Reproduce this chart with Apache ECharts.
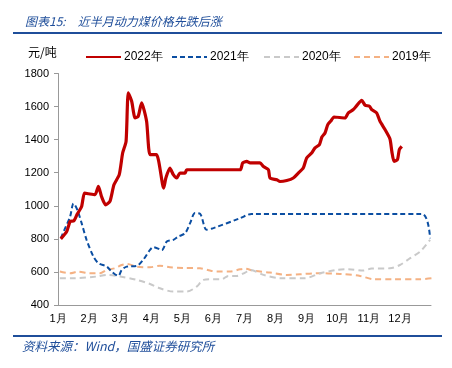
<!DOCTYPE html>
<html>
<head>
  <meta charset="utf-8" />
  <title>动力煤价格</title>
  <style>
    html, body { margin: 0; padding: 0; background: #fff; }
    #chart { width: 452px; height: 368px; }
  </style>
</head>
<body>
  <div id="chart"></div>
  <script src="https://cdn.jsdelivr.net/npm/echarts@6/dist/echarts.min.js"></script>
  <script>
    // x = 月份位置 (0 = 1月初, 12 = 年末)
    var months = ['1月','2月','3月','4月','5月','6月','7月','8月','9月','10月','11月','12月'];
    var yTicks = [400, 600, 800, 1000, 1200, 1400, 1600, 1800];

    var x2022 = [0.09,0.28,0.39,0.51,0.62,0.76,0.85,0.98,1.19,1.30,1.40,1.53,1.67,1.80,1.97,2.08,2.19,2.26,2.37,2.48,2.58,2.69,2.85,2.96,3.17,3.40,3.47,3.60,3.71,3.82,3.92,4.09,4.14,5.86,5.94,6.07,6.18,6.50,6.61,6.77,6.82,7.04,7.14,7.36,7.57,7.73,7.89,8.00,8.16,8.27,8.41,8.49,8.59,8.68,8.77,8.88,9.23,9.34,9.50,9.61,9.77,9.88,10.02,10.09,10.25,10.36,10.52,10.68,10.74,10.81,10.92,10.98,11.06];
    var y2022 = [800,844,905,909,950,996,1077,1073,1067,1117,1056,1006,1026,1127,1188,1319,1390,1683,1632,1531,1541,1622,1511,1309,1309,1107,1168,1228,1188,1168,1198,1198,1218,1218,1259,1269,1259,1259,1238,1218,1168,1157,1147,1153,1168,1198,1228,1289,1319,1350,1370,1416,1440,1491,1511,1537,1531,1562,1582,1606,1638,1608,1602,1582,1562,1511,1461,1404,1329,1269,1279,1339,1359];

    var x2021 = [0.09,0.23,0.39,0.50,0.62,0.76,0.92,1.14,1.30,1.57,1.73,1.94,2.05,2.21,2.53,2.74,2.96,3.07,3.34,3.50,3.71,3.87,4.09,4.25,4.41,4.57,4.78,5.00,5.86,6.23,11.70,11.97];
    var y2021 = [804,865,935,1014,976,895,794,693,653,632,602,576,612,632,636,673,733,750,733,784,794,814,834,895,956,952,855,865,925,951,951,804];

    var x2020 = [0.06,0.49,1.24,1.57,2.00,2.53,2.96,3.28,3.71,4.14,4.46,4.68,5.00,5.27,5.48,5.75,6.02,6.18,6.61,7.14,7.95,8.43,8.97,9.34,9.82,10.09,10.68,11.00,11.33,11.65,11.97];
    var y2020 = [562,562,572,582,572,552,527,501,481,481,511,552,556,556,576,576,596,612,582,562,562,592,612,616,608,620,622,642,683,723,794];

    var x2019 = [0.06,0.39,0.65,1.03,1.35,1.57,1.83,2.05,2.23,2.53,2.96,3.28,3.60,4.03,4.57,4.89,5.11,5.53,5.86,6.02,6.28,6.82,7.36,7.79,8.32,9.07,9.72,10.14,10.79,11.65,12.02];
    var y2019 = [602,592,602,592,592,612,622,642,648,632,628,638,628,624,622,608,602,602,616,620,608,596,582,586,592,588,576,556,556,556,562];

    function pairs(xs, ys) {
      var out = [];
      for (var i = 0; i < xs.length; i++) out.push([xs[i], ys[i]]);
      return out;
    }

    var blue = '#1F4E9A';
    var font = 'Liberation Sans, Arial, sans-serif';

    var myChart = echarts.init(document.getElementById('chart'));
    var legendBase = {
      top: 46,
      itemWidth: 35,
      itemHeight: 12,
      itemGap: 4,
      itemStyle: { opacity: 0 },
      textStyle: { fontSize: 12, color: '#000', fontFamily: font, padding: [0, 0, 0, -2] }
    };
    var option = {
      animation: false,
      backgroundColor: '#fff',
      title: {
        text: '图表15:\u3000近半月动力煤价格先跌后涨',
        left: 20,
        top: 10,
        textStyle: {
          fontSize: 12,
          fontWeight: 'normal',
          fontStyle: 'italic',
          color: blue,
          fontFamily: 'Noto Sans CJK SC'
        }
      },
      graphic: [
        { type: 'line', shape: { x1: 13, y1: 33, x2: 442, y2: 33 }, style: { stroke: blue, lineWidth: 2 } },
        { type: 'line', shape: { x1: 13, y1: 336, x2: 442, y2: 336 }, style: { stroke: blue, lineWidth: 2 } },
        { type: 'text', left: 28, top: 46, style: { text: '元/吨', fontSize: 12, fill: '#000', fontFamily: 'Noto Sans CJK SC' } },
        { type: 'text', left: 22, top: 340, style: { text: '资料来源：Wind，国盛证券研究所', fontSize: 12.5, fill: blue, fontStyle: 'italic', fontFamily: 'Noto Sans CJK SC' } }
      ],
      legend: [
        echarts.util.extend({ left: 80, data: ['2022年'] }, legendBase),
        echarts.util.extend({ left: 166, data: ['2021年'] }, legendBase),
        echarts.util.extend({ left: 258, data: ['2020年'] }, legendBase),
        echarts.util.extend({ left: 348, data: ['2019年'] }, legendBase)
      ],
      grid: { left: 58, right: 21, top: 73.5, bottom: 63 },
      xAxis: {
        type: 'value',
        min: 0,
        max: 12,
        interval: 1,
        axisLine: { lineStyle: { color: '#999' } },
        axisTick: { show: false },
        splitLine: { show: false },
        axisLabel: {
          color: '#000',
          fontSize: 11,
          fontFamily: font,
          margin: 8,
          formatter: function (v) { return v < 12 ? months[v] : ''; }
        }
      },
      yAxis: {
        type: 'value',
        min: yTicks[0],
        max: yTicks[yTicks.length - 1],
        interval: 200,
        axisLine: { show: true, lineStyle: { color: '#999' } },
        axisTick: { show: true, length: 4, lineStyle: { color: '#999' } },
        splitLine: { show: false },
        axisLabel: {
          color: '#000', fontSize: 11, fontFamily: font, margin: 9,
          formatter: function (v) { return String(v); }
        }
      },
      series: [
        {
          name: '2019年', type: 'line', symbol: 'none', smooth: 0.3, z: 1,
          itemStyle: { color: '#F4B183' },
          lineStyle: { color: '#F4B183', width: 2, type: [6, 4] },
          data: pairs(x2019, y2019)
        },
        {
          name: '2020年', type: 'line', symbol: 'none', smooth: 0.3, z: 2,
          itemStyle: { color: '#C9C9C9' },
          lineStyle: { color: '#C9C9C9', width: 2, type: [6, 4] },
          data: pairs(x2020, y2020)
        },
        {
          name: '2021年', type: 'line', symbol: 'none', smooth: 0.3, z: 3,
          itemStyle: { color: '#0B4EA2' },
          lineStyle: { color: '#0B4EA2', width: 2, type: [5, 3] },
          data: pairs(x2021, y2021)
        },
        {
          name: '2022年', type: 'line', symbol: 'none', smooth: 0.2, z: 4,
          itemStyle: { color: '#C00000' },
          lineStyle: { color: '#C00000', width: 3.2 },
          data: pairs(x2022, y2022)
        }
      ]
    };
    myChart.setOption(option);
  </script>
</body>
</html>
